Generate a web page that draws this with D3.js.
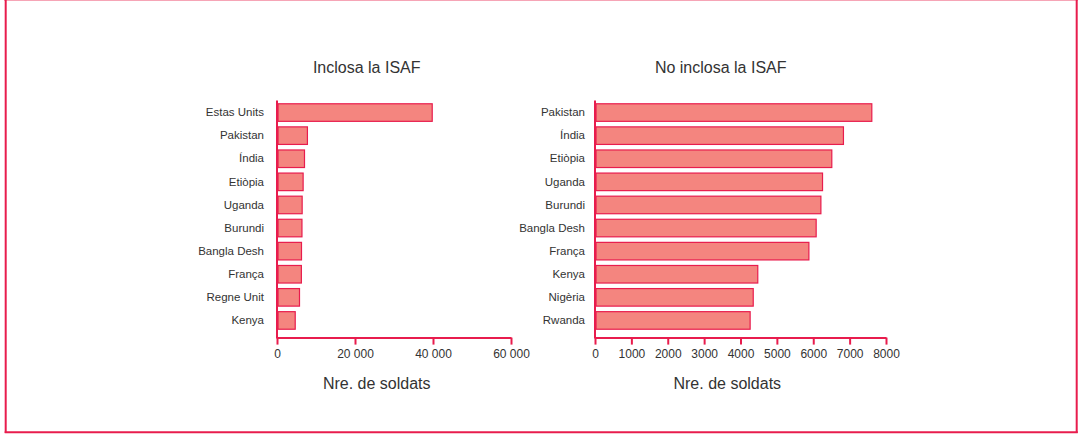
<!DOCTYPE html>
<html>
<head>
<meta charset="utf-8">
<script src="https://cdn.jsdelivr.net/npm/d3@7"></script>
<style>
  body { margin: 0; background: #fff; }
  svg { display: block; font-family: "Liberation Sans", Arial, sans-serif; }
</style>
</head>
<body>
<div id="chart"></div>
<script>
// data
var leftCats = ["Estas Units", "Pakistan", "Índia", "Etiòpia", "Uganda", "Burundi", "Bangla Desh", "França", "Regne Unit", "Kenya"];
var leftVals = [39800, 7800, 7050, 6700, 6450, 6400, 6280, 6250, 5770, 4670];
var leftTicks = [0, 20000, 40000, 60000];

var rightCats = ["Pakistan", "Índia", "Etiòpia", "Uganda", "Burundi", "Bangla Desh", "França", "Kenya", "Nigèria", "Rwanda"];
var rightVals = [7610, 6830, 6510, 6255, 6210, 6080, 5880, 4475, 4350, 4265];
var rightTicks = [0, 1000, 2000, 3000, 4000, 5000, 6000, 7000, 8000];

var W = 1078, H = 434;
var red = "#e81c4d", fill = "#f4857f", txt = "#333";

var svg = d3.select("#chart").append("svg")
    .attr("width", W)
    .attr("height", H);

// frame
svg.append("line").attr("x1", 4).attr("x2", W).attr("y1", 0.5).attr("y2", 0.5)
    .attr("stroke", "#f6a5b6").attr("stroke-width", 1);
svg.append("line").attr("x1", 5.7).attr("x2", 5.7).attr("y1", 0).attr("y2", 433)
    .attr("stroke", red).attr("stroke-width", 2);
svg.append("line").attr("x1", 1076.7).attr("x2", 1076.7).attr("y1", 0).attr("y2", 433)
    .attr("stroke", red).attr("stroke-width", 2);
svg.append("line").attr("x1", 4.7).attr("x2", 1077.7).attr("y1", 432.2).attr("y2", 432.2)
    .attr("stroke", red).attr("stroke-width", 2);

var leftFmt = d3.formatLocale({decimal: ",", thousands: " ", grouping: [3], currency: ["", ""]}).format(",d");

function drawPanel(cfg) {
    var x = d3.scaleLinear().domain(cfg.domain).range(cfg.xr);
    var y = d3.scaleBand().domain(cfg.cats).range([101, 332]).paddingInner(0.24).paddingOuter(0.12);
    var axisY = 337.6;
    var g = svg.append("g");

    // title
    g.append("text")
        .attr("x", cfg.titleX).attr("y", 67).attr("dy", "0.35em")
        .attr("text-anchor", "middle")
        .style("font-size", "16px").style("fill", txt)
        .text(cfg.title);

    // bars
    g.selectAll("rect.bar").data(cfg.vals).enter().append("rect")
        .attr("class", "bar")
        .attr("x", x(0) + 1)
        .attr("y", function(d, i) { return y(cfg.cats[i]); })
        .attr("width", function(d) { return x(d) - x(0) - 1; })
        .attr("height", y.bandwidth())
        .attr("fill", fill)
        .attr("stroke", red)
        .attr("stroke-width", 1.2);

    // category labels
    var yAxis = g.append("g")
        .attr("transform", "translate(" + x(0) + ",0)")
        .call(d3.axisLeft(y).tickSize(0).tickPadding(cfg.labelPad));
    yAxis.select(".domain").remove();
    yAxis.selectAll("text").style("font-size", "11.5px").style("fill", txt)
        .style("font-family", "'Liberation Sans', Arial, sans-serif");

    // x axis
    var xAxis = g.append("g")
        .attr("transform", "translate(0," + axisY + ")")
        .call(d3.axisBottom(x).tickValues(cfg.ticks).tickFormat(cfg.fmt).tickSize(7).tickSizeOuter(0).tickPadding(5));
    xAxis.select(".domain").attr("stroke", red).attr("stroke-width", 2);
    xAxis.selectAll(".tick line").attr("stroke", red).attr("stroke-width", 2);
    xAxis.selectAll("text").style("font-size", "12px").style("fill", txt)
        .style("font-family", "'Liberation Sans', Arial, sans-serif");

    // vertical axis line
    g.append("line")
        .attr("x1", x(0)).attr("x2", x(0))
        .attr("y1", 100.5).attr("y2", axisY + 1)
        .attr("stroke", red).attr("stroke-width", 2);

    // axis title
    g.append("text")
        .attr("x", cfg.labelX).attr("y", 383).attr("dy", "0.35em")
        .attr("text-anchor", "middle")
        .style("font-size", "16px").style("fill", txt)
        .text("Nre. de soldats");
}

drawPanel({
    title: "Inclosa la ISAF", titleX: 366.7, labelX: 376.7,
    cats: leftCats, vals: leftVals, ticks: leftTicks,
    domain: [0, 60000], xr: [277, 511], fmt: leftFmt, labelPad: 13
});

drawPanel({
    title: "No inclosa la ISAF", titleX: 720.7, labelX: 727.3,
    cats: rightCats, vals: rightVals, ticks: rightTicks,
    domain: [0, 8000], xr: [595, 886], fmt: d3.format("d"), labelPad: 10
});
</script>
</body>
</html>
